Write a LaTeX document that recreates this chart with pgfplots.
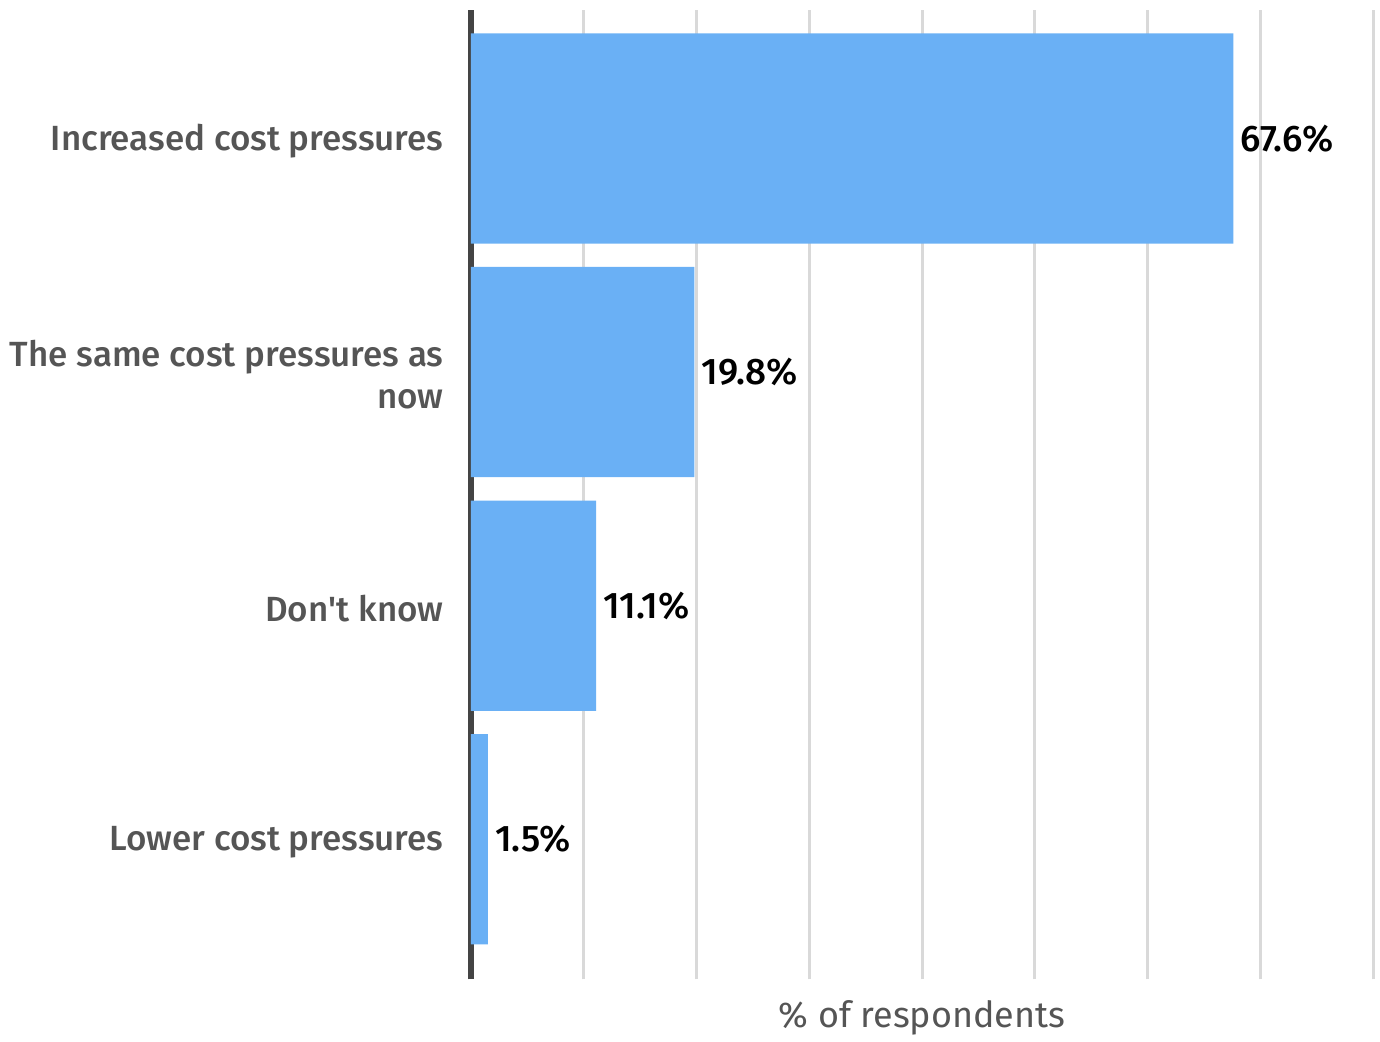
\documentclass[border=0pt]{standalone}
\usepackage{pgfplots}
\pgfplotsset{compat=1.18}
\usepackage{fontspec}
\setmainfont{Fira Sans}
\newfontfamily\medfont{Fira Sans Medium}
\definecolor{barblue}{RGB}{106,176,245}
\definecolor{labelgray}{RGB}{85,85,85}
\definecolor{axisgray}{RGB}{68,68,68}
\definecolor{gridgray}{RGB}{217,217,217}
\begin{document}
\begin{tikzpicture}
\begin{axis}[
  scale only axis,
  width=451.5pt, height=485pt,
  xbar, bar width=0.9,
  xmin=0, xmax=80,
  ymin=-0.6, ymax=3.55,
  xtick={10,20,...,80}, xticklabels={},
  xmajorgrids, major grid style={gridgray, line width=1.5pt},
  ytick={0,1,2,3},
  yticklabels={Lower cost pressures, Don't know, {The same cost pressures as\\now}, Increased cost pressures},
  yticklabel style={align=right, font=\medfont\fontsize{17.5}{21}\selectfont, text=labelgray, inner sep=0pt, xshift=-13.5pt, yshift=-1.5pt},
  major tick length=0pt,
  separate axis lines,
  axis x line*=bottom, axis y line*=left,
  x axis line style={draw=none},
  y axis line style={draw=axisgray, line width=3pt, -},
  xlabel={\% of respondents},
  xlabel style={font=\fontsize{18}{21}\selectfont, text=labelgray, yshift=0pt},
  point meta=x,
  nodes near coords={\pgfmathprintnumber[fixed, precision=1, fixed zerofill, assume math mode=true]{\pgfplotspointmeta}\%},
  nodes near coords style={font=\medfont\fontsize{18.5}{21}\selectfont, text=black, anchor=west, inner sep=0pt, xshift=3.5pt},
  clip=false,
  after end axis/.code={\path (rel axis cs:0,1) ++(0,5pt);},
]
\addplot[fill=barblue, draw=none] coordinates {(1.5,0) (11.1,1) (19.8,2) (67.6,3)};
\end{axis}
% white margin on the left of the category labels
\path (current bounding box.south west) ++(-5pt,0);
\end{tikzpicture}
\end{document}
